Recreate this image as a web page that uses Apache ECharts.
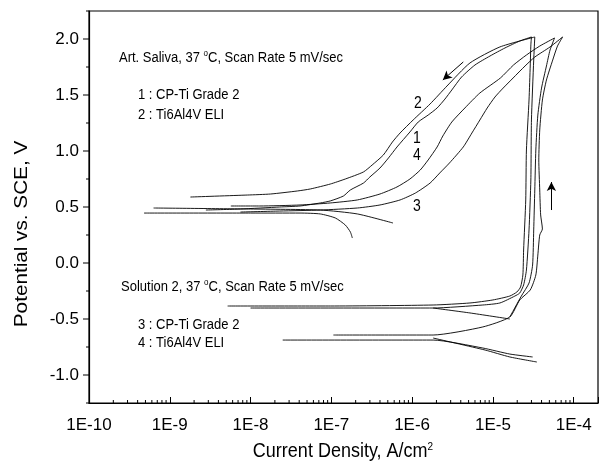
<!DOCTYPE html>
<html><head><meta charset="utf-8">
<script src="https://cdn.jsdelivr.net/npm/echarts@6/dist/echarts.min.js"></script>
<style>html,body{margin:0;padding:0;background:#fff}#c{width:601px;height:473px}</style>
</head><body><div id="c"></div>
<script>
// ---- data: [current density A/cm2, potential V] ----
const curve1 = [[5.2e-9,-0.384],[9.7e-8,-0.384],[1.82e-6,-0.375],[5.2e-6,-0.357],[1.0e-5,-0.33],[1.62e-5,-0.295],[1.98e-5,-0.259],[2.2e-5,-0.214],[2.35e-5,-0.107],[2.4e-5,0.116],[2.55e-5,0.563],[2.6e-5,1.009],[2.8e-5,1.455],[2.9e-5,1.768],[2.95e-5,1.946],[3.0e-5,2.018],
 [2.15e-5,1.982],[1.41e-5,1.92],[9.2e-6,1.848],[6.0e-6,1.768],[4.1e-6,1.661],[3.1e-6,1.545],[2.55e-6,1.464],[2.04e-6,1.384],[1.58e-6,1.321],[1.19e-6,1.259],[9.4e-7,1.17],[6.5e-7,1.036],[5.1e-7,0.938],[4.0e-7,0.848],[3.0e-7,0.768],[2.5e-7,0.714],[1.72e-7,0.652],[1.41e-7,0.598],[9.7e-8,0.554],[7.3e-8,0.536],[4.1e-8,0.509],[2.3e-8,0.5],[7.5e-9,0.482],[2.8e-9,0.473]];
const curve2 = [[1.0e-8,-0.402],[1.82e-6,-0.402],[7.5e-6,-0.375],[1.22e-5,-0.357],[1.87e-5,-0.295],[2.15e-5,-0.268],[2.4e-5,-0.196],[2.6e-5,-0.063],[2.8e-5,0.295],[2.95e-5,0.741],[3.0e-5,1.277],[3.2e-5,1.812],[3.3e-5,2.018],
 [1.22e-5,1.929],[5.2e-6,1.786],[2.7e-6,1.58],[1.67e-6,1.42],[1.03e-6,1.277],[7.1e-7,1.161],[5.7e-7,1.08],[4.4e-7,0.964],[3.2e-7,0.875],[2.5e-7,0.813],[1.49e-7,0.75],[9.7e-8,0.705],[5.5e-8,0.661],[3.8e-8,0.643],[1.77e-8,0.616],[9.2e-9,0.607],[1.8e-9,0.589]];
const curve3 = [[1.06e-7,-0.643],[1.82e-6,-0.643],[7.5e-6,-0.571],[1.62e-5,-0.482],[2.15e-5,-0.33],[2.9e-5,-0.241],[3.4e-5,-0.107],[3.6e-5,0.071],[3.8e-5,0.250],[4.1e-5,0.304],[3.9e-5,0.429],[3.8e-5,0.652],[3.7e-5,0.920],[3.8e-5,1.188],[4.1e-5,1.455],[4.6e-5,1.634],[5.5e-5,1.812],[6.3e-5,1.937],[7.3e-5,2.018],
 [5.1e-5,1.929],[3.3e-5,1.839],[2.5e-5,1.759],[1.78e-5,1.652],[1.34e-5,1.562],[1.06e-5,1.482],[8.5e-6,1.384],[6.9e-6,1.277],[5.5e-6,1.161],[4.3e-6,1.036],[2.9e-6,0.893],[2.2e-6,0.804],[1.67e-6,0.714],[1.1e-6,0.625],[7.1e-7,0.563],[4.0e-7,0.518],[2.1e-7,0.491],[7.3e-8,0.473],[2.3e-8,0.464],[7.5e-9,0.455]];
const curve4 = [[1.62e-5,-0.482],[2.25e-5,-0.295],[2.8e-5,-0.179],[3.1e-5,-0.018],[3.2e-5,0.295],[3.3e-5,0.652],[3.4e-5,1.009],[3.6e-5,1.321],[4.0e-5,1.562],[4.6e-5,1.759],[5.1e-5,1.902],[5.8e-5,2.009],
 [3.8e-5,1.937],[2.6e-5,1.857],[1.8e-5,1.768],[1.24e-5,1.652],[6.9e-6,1.518],[4.5e-6,1.384],[3.1e-6,1.259],[2.4e-6,1.134],[2.04e-6,1.036],[1.58e-6,0.920],[1.26e-6,0.830],[9.4e-7,0.75],[6.5e-7,0.679],[4.0e-7,0.616],[2.1e-7,0.563],[9.7e-8,0.536],[4.1e-8,0.518],[1.3e-8,0.509],[5.7e-9,0.509]];
const salivaTail1 = [[4.8e-10,0.446],[1.0e-8,0.446],[4.1e-8,0.446],[7.3e-8,0.438],[1.12e-7,0.402],[1.49e-7,0.339],[1.72e-7,0.277],[1.82e-7,0.223]];
const salivaTail2 = [[6.3e-10,0.491],[1.0e-8,0.482],[7.3e-8,0.473],[2.1e-7,0.438],[5.8e-7,0.357]];
const solTail3 = [[1.82e-6,-0.402],[5.2e-6,-0.446],[1.62e-5,-0.5]];
const solBranch4 = [[2.5e-8,-0.688],[1.82e-6,-0.688],[7.5e-6,-0.759],[1.62e-5,-0.813],[3.1e-5,-0.839]];
const solTail4 = [[1.82e-6,-0.67],[8.0e-6,-0.777],[1.62e-5,-0.839],[3.5e-5,-0.884]];
const arrowDown = [[4.3e-6,1.795],[2.4e-6,1.634]];
const arrowUp = [[5.3e-5,0.473],[5.3e-5,0.723]];
// axes
const X_MIN = 1e-10, X_MAX = 2e-4, Y_MIN = -1.25, Y_MAX = 2.25;
const yMajorTicks = [-1.0,-0.5,0.0,0.5,1.0,1.5,2.0];
const yMinorTicks = [-1.25,-0.75,-0.25,0.25,0.75,1.25,1.75,2.25];
const minorMultipliers = [2,3,4,5,6,7,8,9];
const decades = [1e-10,1e-9,1e-8,1e-7,1e-6,1e-5,1e-4];

const xMinorTicks = [];
decades.forEach(d => minorMultipliers.forEach(k => { const v = k*d; if (v < X_MAX*0.999) xMinorTicks.push(v); }));

const FONT = 'Liberation Sans, Arial, sans-serif';
const lineSeries = (name, data) => ({
  name, type:'line', data, showSymbol:false, symbol:'none', smooth:0.2,
  lineStyle:{color:'#000', width:0.9}, silent:true, z:3
});
const note = (left, top, text, size) => ({type:'text', left, top, scaleY:1.15,
  style:{text, font:(size||13)+'px '+FONT, fill:'#000', rich:{s:{fontSize:8, fontFamily:FONT, padding:[0,0,7,0]}}}});

const chart = echarts.init(document.getElementById('c'), null, {renderer:'canvas'});
const s1 = lineSeries('curve1', curve1);
s1.markLine = {
  silent:true, symbol:['none','arrow'], symbolSize:[7,9], animation:false,
  label:{show:false}, lineStyle:{color:'#000', width:1, type:'solid'},
  data:[[{coord:arrowDown[0]},{coord:arrowDown[1]}],[{coord:arrowUp[0]},{coord:arrowUp[1]}]]
};
chart.setOption({
  animation:false,
  backgroundColor:'#fff',
  grid:{left:89, right:2, top:11, bottom:70, show:true, borderColor:'#000', borderWidth:1.2},
  xAxis:{type:'log', logBase:10, min:X_MIN, max:X_MAX,
    axisLine:{onZero:false, lineStyle:{color:'#000', width:1.2}},
    axisTick:{show:true, inside:true, length:6, lineStyle:{color:'#000', width:1}},
    splitLine:{show:false},
    axisLabel:{color:'#000', fontFamily:FONT, fontSize:17, margin:14,
      formatter:v => { const e = Math.log10(v); return Math.abs(e-Math.round(e))<1e-6 ? '1E'+Math.round(e) : ''; }}
  },
  yAxis:{type:'value', min:Y_MIN, max:Y_MAX, interval:0.25,
    axisLine:{onZero:false, lineStyle:{color:'#000', width:1.2}},
    axisTick:{show:false},
    splitLine:{show:false},
    axisLabel:{color:'#000', fontFamily:FONT, fontSize:17, margin:10,
      formatter:v => Math.abs(v*2-Math.round(v*2))<1e-9 ? v.toFixed(1) : ''}
  },
  series:[
    s1, lineSeries('curve2', curve2), lineSeries('curve3', curve3), lineSeries('curve4', curve4),
    lineSeries('salivaTail1', salivaTail1), lineSeries('salivaTail2', salivaTail2),
    lineSeries('solTail3', solTail3), lineSeries('solBranch4', solBranch4), lineSeries('solTail4', solTail4),
    {type:'custom', silent:true, clip:false, data:xMinorTicks.map(v=>[v, Y_MIN]),
      renderItem:(p, api)=>{ const c = api.coord([api.value(0), Y_MIN]);
        return {type:'line', shape:{x1:c[0], y1:c[1], x2:c[0], y2:c[1]-3}, style:{stroke:'#000', lineWidth:1}}; }},
    {type:'custom', silent:true, clip:false,
      data:yMajorTicks.map(v=>[X_MIN, v, 6]).concat(yMinorTicks.map(v=>[X_MIN, v, 3])),
      renderItem:(p, api)=>{ const c = api.coord([X_MIN, api.value(1)]); const len = api.value(2);
        return {type:'line', shape:{x1:c[0], y1:c[1], x2:c[0]-len, y2:c[1]}, style:{stroke:'#000', lineWidth:1}}; }}
  ],
  graphic:[
    note(119, 49, 'Art. Saliva, 37 {s|o}C, Scan Rate 5 mV/sec'),
    note(138, 87, '1 : CP-Ti Grade 2'),
    note(138, 107, '2 : Ti6Al4V ELI'),
    note(121, 278, 'Solution 2, 37 {s|o}C, Scan Rate 5 mV/sec'),
    note(138, 317, '3 : CP-Ti Grade 2'),
    note(138, 335, '4 : Ti6Al4V ELI'),
    note(414, 96, '2', 14),
    note(413, 131, '1', 14),
    note(413, 148, '4', 14),
    note(413, 199, '3', 14),
    {type:'text', x:343, y:452, scaleY:1.1, style:{text:'Current Density, A/cm{s|2}', font:'18px '+FONT, fill:'#000', align:'center', verticalAlign:'middle', rich:{s:{fontSize:10, fontFamily:FONT, padding:[0,0,9,0]}}}},
    {type:'text', x:22, y:234, rotation:Math.PI/2, scaleX:1.15, style:{text:'Potential vs. SCE, V', font:'18px '+FONT, fill:'#000', align:'center', verticalAlign:'middle'}}
  ]
});
</script></body></html>
